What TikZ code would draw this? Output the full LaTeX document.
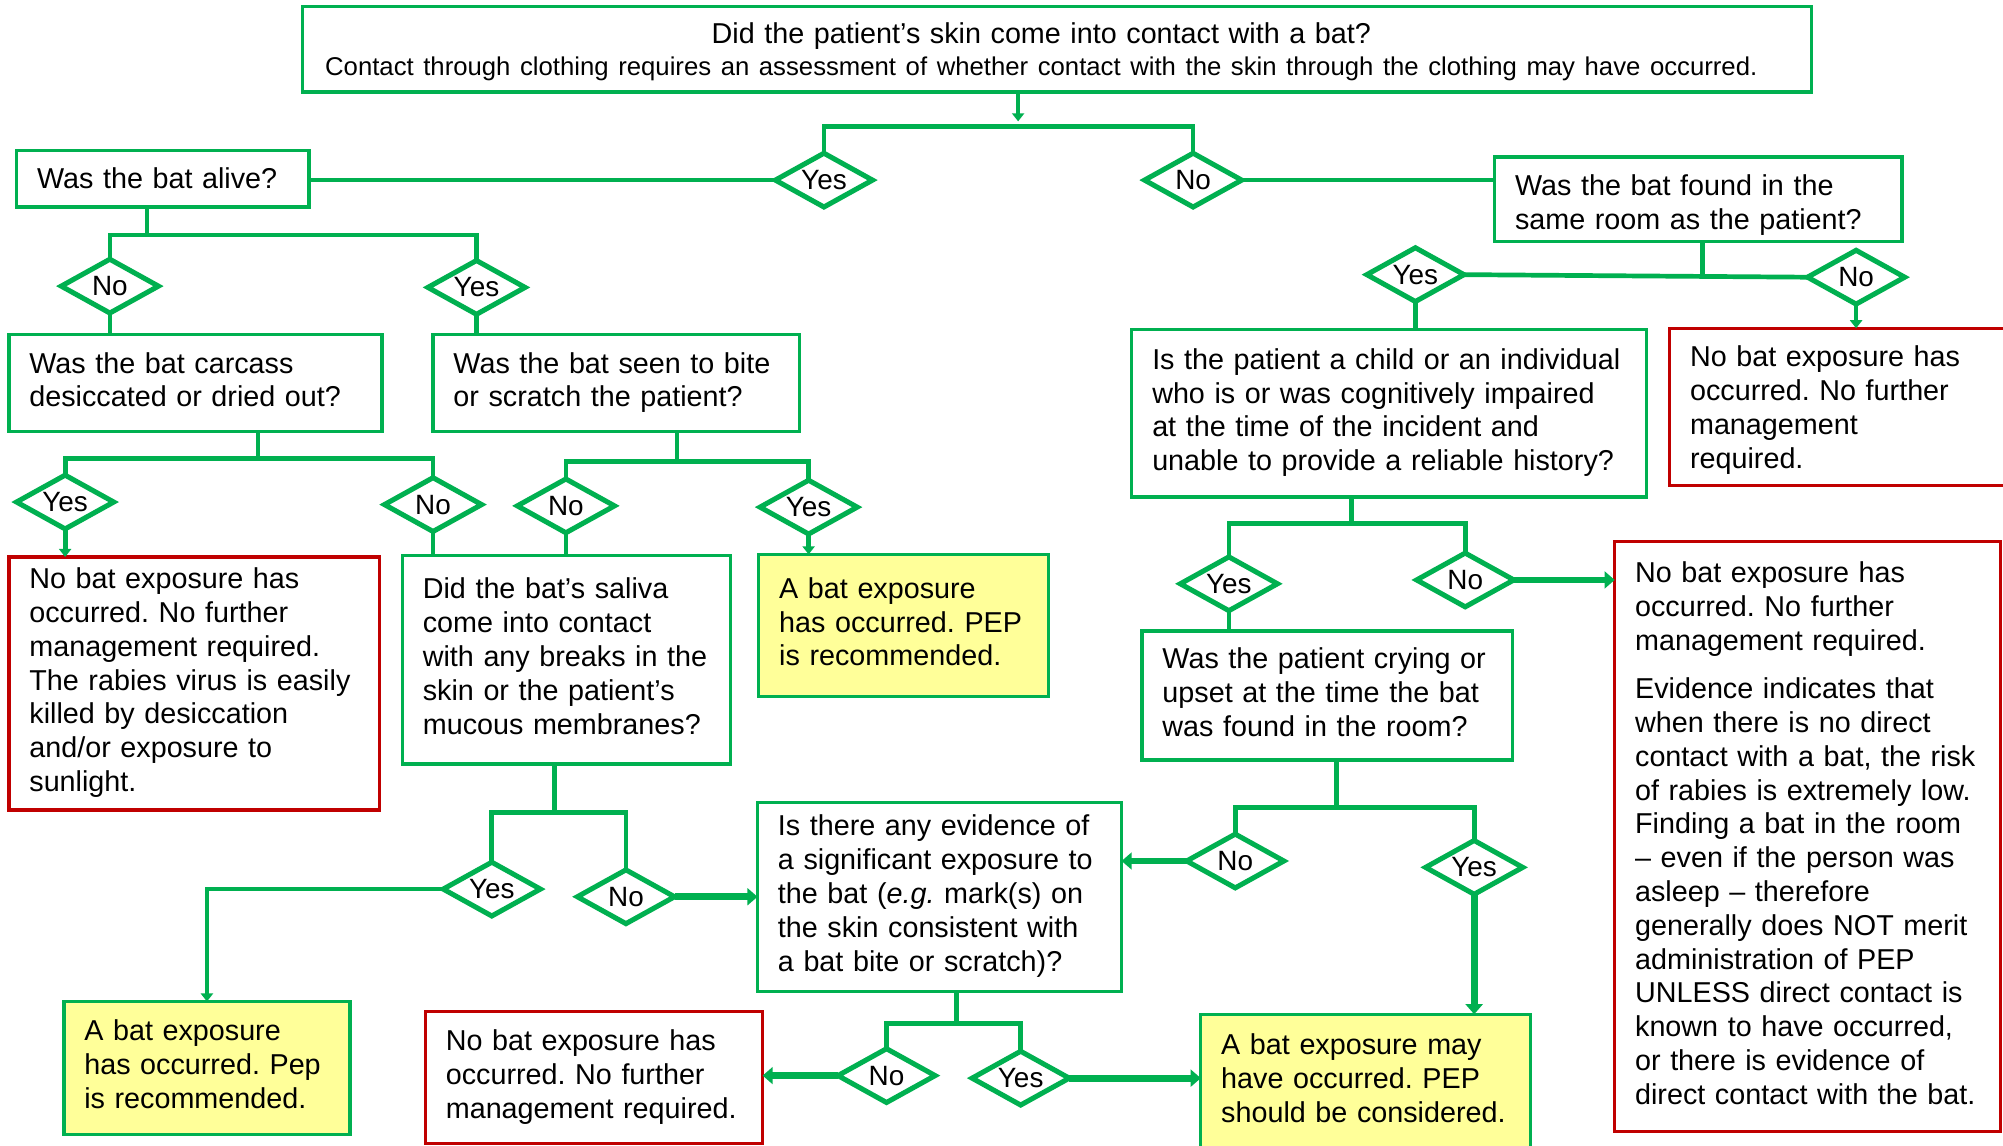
\documentclass[tikz,border=0pt]{standalone}
\usepackage{fontspec}
\setmainfont{Liberation Sans}
\usetikzlibrary{shapes.geometric,arrows.meta}
\frenchspacing

\definecolor{cgreen}{RGB}{0,176,80}
\definecolor{cred}{RGB}{192,0,0}
\definecolor{cyellow}{RGB}{255,255,153}
\newcommand{\rows}[1]{\begin{tabular}{@{}l@{}}#1\end{tabular}}
\newcommand{\crows}[1]{\begin{tabular}{@{}c@{}}#1\end{tabular}}

\begin{document}
\begin{tikzpicture}[x=0.38pt,y=-0.38pt,inner sep=0pt,outer sep=0pt,
  box/.style={draw=cgreen,line width=1pt,fill=white,text width=#1,align=left,
    inner xsep=6.08pt,font=\fontsize{8.55}{10.05}\selectfont},
  nobox/.style={box=#1,draw=cred},
  pepbox/.style={box=#1,fill=cyellow},
  dia/.style={diamond,draw=cgreen,line width=1.5pt,fill=white,aspect=1.8,
    minimum width=28.9pt,minimum height=16pt,font=\fontsize{8.3}{9}\selectfont},
  link/.style={draw=cgreen,line width=1.4pt},
  tip/.style={link,-{Triangle[length=2.4pt,width=3.6pt]}},
  fat/.style={draw=cgreen,line width=2pt,-{Triangle[length=3pt,width=5pt]}}]
\useasboundingbox[fill=white] (0,0) rectangle (1568,897);

% questions
\node[box=436.62pt,minimum height=25.46pt] (contact) at (827.5,38.5)
  {\makebox[436.62pt][c]{\crows{\rule{0pt}{9.3pt}Did the patient’s skin come into contact with a bat?\\[-0.6pt]
   \fontsize{7.65}{9.4}\selectfont Contact through clothing requires an assessment of whether contact with the skin through the clothing may have occurred.}\hspace{9.4pt}}};
\node[box=74.86pt,minimum height=16.72pt] (alive) at (127.5,140)
  {\rows{\rule{0pt}{8.5pt}Was the bat alive?}};
\node[box=109.06pt,minimum height=25.08pt] (found) at (1329.5,156)
  {\rows{\rule{0pt}{10.8pt}Was the bat found in the\\ same room as the patient?}};
\node[box=98.8pt,minimum height=28.88pt] (carcass) at (153,300)
  {\rows{Was the bat carcass\\ desiccated or dried out?}};
\node[box=96.9pt,minimum height=28.88pt] (bite) at (482.5,300)
  {\rows{Was the bat seen to bite\\ or scratch the patient?}};
\node[box=140.98pt,minimum height=49.78pt] (child) at (1087.5,323.5)
  {\rows{Is the patient a child or an individual\\ who is or was cognitively impaired\\
   at the time of the incident and\\ unable to provide a reliable history?}};
\node[box=85.5pt,minimum height=61.94pt] (saliva) at (443.5,516.5)
  {\rows{Did the bat’s saliva\\ come into contact\\ with any breaks in the\\
   skin or the patient’s\\ mucous membranes?}};
\node[box=98.04pt,minimum height=38.38pt] (crying) at (1039,544.5)
  {\rows{Was the patient crying or\\ upset at the time the bat\\ was found in the room?}};
\node[box=96.14pt,minimum height=56.24pt] (evidence) at (735.5,702)
  {\rows{Is there any evidence of\\ a significant exposure to\\
   the bat (\textit{e.g.} mark(s) on\\ the skin consistent with\\ a bat bite or scratch)?}};

% outcomes
\node[nobox=91.58pt,minimum height=46.74pt] (noexp1) at (1443.5,318.5)
  {\rows{\rule{0pt}{9.3pt}No bat exposure has\\ occurred. No further\\ management\\ required.}};
\node[nobox=98.04pt,minimum height=75.24pt] (noexp2) at (152,535)
  {\rows{No bat exposure has\\ occurred. No further\\ management required.\\
   The rabies virus is easily\\ killed by desiccation\\ and/or exposure to\\ sunlight.}};
\node[nobox=102.6pt,minimum height=175.56pt] (noexp3) at (1415,655)
  {\rows{No bat exposure has\\ occurred. No further\\ management required.\\[4.4pt]
   Evidence indicates that\\ when there is no direct\\ contact with a bat, the risk\\
   of rabies is extremely low.\\ Finding a bat in the room\\ -- even if the person was\\
   asleep -- therefore\\ generally does NOT merit\\ administration of PEP\\
   UNLESS direct contact is\\ known to have occurred,\\ or there is evidence of\\
   direct contact with the bat.}};
\node[nobox=88.16pt,minimum height=39.14pt] (noexp4) at (465,843.5)
  {\rows{No bat exposure has\\ occurred. No further\\ management required.}};
\node[pepbox=74.1pt,minimum height=42.18pt] (pep1) at (707.5,489.5)
  {\rows{A bat exposure\\ has occurred. PEP\\ is recommended.}};
\node[pepbox=72.96pt,minimum height=39.52pt] (pep2) at (162,836)
  {\rows{A bat exposure\\ has occurred. Pep\\ is recommended.}};
\node[pepbox=85.88pt,minimum height=40.28pt] (pep3) at (1069,847)
  {\rows{A bat exposure may\\ have occurred. PEP\\ should be considered.}};

% answers
\node[dia] (contact-y) at (645,141) {Yes};
\node[dia] (contact-n) at (934,141) {No};
\node[dia] (alive-n) at (86,224) {No};
\node[dia] (alive-y) at (373,225) {Yes};
\node[dia] (found-y) at (1108,215) {Yes};
\node[dia] (found-n) at (1453,217) {No};
\node[dia] (carcass-y) at (51,393) {Yes};
\node[dia] (carcass-n) at (339,395) {No};
\node[dia] (bite-n) at (443,396) {No};
\node[dia] (bite-y) at (633,397) {Yes};
\node[dia] (child-y) at (962,457) {Yes};
\node[dia] (child-n) at (1147,454) {No};
\node[dia] (saliva-y) at (385,696) {Yes};
\node[dia] (saliva-n) at (490,702) {No};
\node[dia] (crying-n) at (967,674) {No};
\node[dia] (crying-y) at (1154,679) {Yes};
\node[dia] (evid-n) at (694,842) {No};
\node[dia] (evid-y) at (799,844) {Yes};

% forks
\coordinate (jcontact) at (797,99);
\coordinate (jalive) at (115,184);
\coordinate (jfound) at (1333,215);
\coordinate (jcarcass) at (202,359);
\coordinate (jbite) at (530,361);
\coordinate (jchild) at (1058,410);
\coordinate (jsaliva) at (434,636);
\coordinate (jcrying) at (1046,632);
\coordinate (jevid) at (749,801);

\draw[tip,line width=1pt] (contact.south -| jcontact) -- ++(0,23);
\draw[link] (contact-y.north) |- (jcontact) -| (contact-n.north);
\draw[link] (alive.south -| jalive) -- (jalive);
\draw[link] (alive-n.north) |- (jalive) -| (alive-y.north);
\draw[link] (found.south -| jfound) -- (jfound);
\draw[link] (found-y.east) -- (found-n.west);
\draw[link] (carcass.south -| jcarcass) -- (jcarcass);
\draw[link] (carcass-y.north) |- (jcarcass) -| (carcass-n.north);
\draw[link] (bite.south -| jbite) -- (jbite);
\draw[link] (bite-n.north) |- (jbite) -| (bite-y.north);
\draw[link] (child.south -| jchild) -- (jchild);
\draw[link] (child-y.north) |- (jchild) -| (child-n.north);
\draw[link] (saliva.south -| jsaliva) -- (jsaliva);
\draw[link] (saliva-y.north) |- (jsaliva) -| (saliva-n.north);
\draw[link] (crying.south -| jcrying) -- (jcrying);
\draw[link] (crying-n.north) |- (jcrying) -| (crying-y.north);
\draw[link] (evidence.south -| jevid) -- (jevid);
\draw[link] (evid-n.north) |- (jevid) -| (evid-y.north);

% answers to boxes
\draw[link] (contact-y.west) -- (contact-y.west -| alive.east);
\draw[link] (contact-n.east) -- (contact-n.east -| found.west);
\draw[link] (alive-n.south) -- (alive-n.south |- carcass.north);
\draw[link] (alive-y.south) -- (alive-y.south |- bite.north);
\draw[link] (found-y.south) -- (found-y.south |- child.north);
\draw[tip] (found-n.south) -- (found-n.south |- noexp1.north);
\draw[tip] (carcass-y.south) -- (carcass-y.south |- noexp2.north);
\draw[link] (carcass-n.south) -- (carcass-n.south |- saliva.north);
\draw[link] (bite-n.south) -- (bite-n.south |- saliva.north);
\draw[tip] (bite-y.south) -- (bite-y.south |- pep1.north);
\draw[link] (child-y.south) -- (child-y.south |- crying.north);
\draw[fat] (child-n.east) -- (child-n.east -| noexp3.west);
\draw[tip] (saliva-y.west) -| (pep2.north);
\draw[fat] (saliva-n.east) -- (saliva-n.east -| evidence.west);
\draw[fat] (crying-n.west) -- (crying-n.west -| evidence.east);
\draw[fat] (crying-y.south) -- (crying-y.south |- pep3.north);
\draw[fat] (evid-n.west) -- (evid-n.west -| noexp4.east);
\draw[fat] (evid-y.east) -- (evid-y.east -| pep3.west);
\end{tikzpicture}
\end{document}
